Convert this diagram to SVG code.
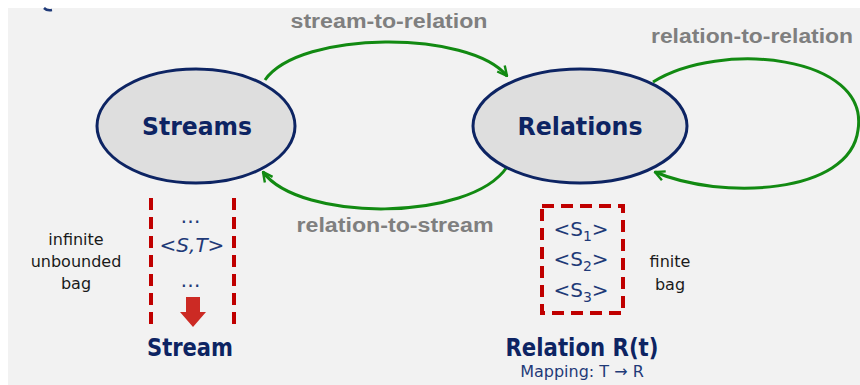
<svg xmlns="http://www.w3.org/2000/svg" width="860" height="385" viewBox="0 0 860 385">
<style>
.lbl{font-family:"Liberation Sans",Arial,sans-serif;font-weight:bold;fill:#7f7f7f;font-size:20px}
.node{fill:#dedede;stroke:#0d2463;stroke-width:3}
.ntxt{font-family:"DejaVu Sans",Verdana,sans-serif;font-weight:bold;fill:#0d2463;font-size:24px}
.conn{fill:none;stroke:#128a12;stroke-width:3}
.dash{fill:none;stroke:#c00000;stroke-width:4;stroke-dasharray:12 7}
.t{font-family:"DejaVu Sans",Verdana,sans-serif;fill:#1a1a1a;font-size:16px}
.b{font-family:"DejaVu Sans",Verdana,sans-serif;fill:#1f3a78;font-size:20px}
</style>
<defs>
<marker id="ah" viewBox="0 0 10 10" refX="9" refY="5" markerWidth="4" markerHeight="4" orient="auto" markerUnits="strokeWidth">
<path d="M1,1 L9,5 L1,9" fill="none" stroke="#128a12" stroke-width="2"/>
</marker>
</defs>
<rect x="0" y="0" width="860" height="385" fill="#ffffff"/>
<rect x="8" y="8" width="852" height="377" fill="#f2f2f2"/>
<path d="M44,8 Q47,11 52,10" fill="none" stroke="#1f3a78" stroke-width="2.5"/>
<g id="connectors">
<path class="conn" d="M265,80 C300,30 470,30 507,76" marker-end="url(#ah)"/>
<path class="conn" d="M507,167 C470,222 300,222 263,172" marker-end="url(#ah)"/>
<path class="conn" d="M653,82 C720,40 870,55 858,130 C850,195 720,200 655,172" marker-end="url(#ah)"/>
<text class="lbl" x="389" y="28" text-anchor="middle" textLength="197" lengthAdjust="spacingAndGlyphs">stream-to-relation</text>
<text class="lbl" x="395" y="232" text-anchor="middle" textLength="197" lengthAdjust="spacingAndGlyphs">relation-to-stream</text>
<text class="lbl" x="752" y="43" text-anchor="middle" textLength="202" lengthAdjust="spacingAndGlyphs">relation-to-relation</text>
</g>
<g id="streams">
<ellipse class="node" cx="196" cy="126" rx="99" ry="57"/>
<text class="ntxt" x="197" y="135" text-anchor="middle" textLength="110" lengthAdjust="spacingAndGlyphs">Streams</text>
</g>
<g id="relations">
<ellipse class="node" cx="580" cy="126" rx="107" ry="57"/>
<text class="ntxt" x="580" y="135" text-anchor="middle" textLength="125" lengthAdjust="spacingAndGlyphs">Relations</text>
</g>
<g id="stream">
<line class="dash" x1="151" y1="198" x2="151" y2="328"/>
<line class="dash" x1="234" y1="198" x2="234" y2="328"/>
<text class="b" x="192" y="223" text-anchor="middle" letter-spacing="3">…</text>
<text class="b" x="192" y="252" text-anchor="middle" font-style="italic">&lt;S,T&gt;</text>
<text class="b" x="192" y="287" text-anchor="middle" letter-spacing="3">…</text>
<path d="M186,297 H200 V312 H206 L193,327 L180,312 H186 Z" fill="#cc2a24"/>
<text class="ntxt" x="190" y="356" text-anchor="middle" font-size="21" textLength="86" lengthAdjust="spacingAndGlyphs">Stream</text>
<text class="t" x="76" y="245" text-anchor="middle">infinite</text>
<text class="t" x="76" y="267" text-anchor="middle">unbounded</text>
<text class="t" x="76" y="289" text-anchor="middle">bag</text>
</g>
<g id="relation">
<rect class="dash" x="542" y="206" width="81" height="107"/>
<text class="b" x="581" y="236" text-anchor="middle">&lt;S<tspan font-size="14" dy="5">1</tspan><tspan dy="-5">&gt;</tspan></text>
<text class="b" x="581" y="266" text-anchor="middle">&lt;S<tspan font-size="14" dy="5">2</tspan><tspan dy="-5">&gt;</tspan></text>
<text class="b" x="581" y="297" text-anchor="middle">&lt;S<tspan font-size="14" dy="5">3</tspan><tspan dy="-5">&gt;</tspan></text>
<text class="t" x="670" y="267" text-anchor="middle">finite</text>
<text class="t" x="670" y="290" text-anchor="middle">bag</text>
<text class="ntxt" x="582" y="356" text-anchor="middle" textLength="153" lengthAdjust="spacingAndGlyphs">Relation R(t)</text>
<text class="t" x="582" y="377" text-anchor="middle" font-size="15" style="fill:#1f3a78">Mapping: T → R</text>
</g>
</svg>
